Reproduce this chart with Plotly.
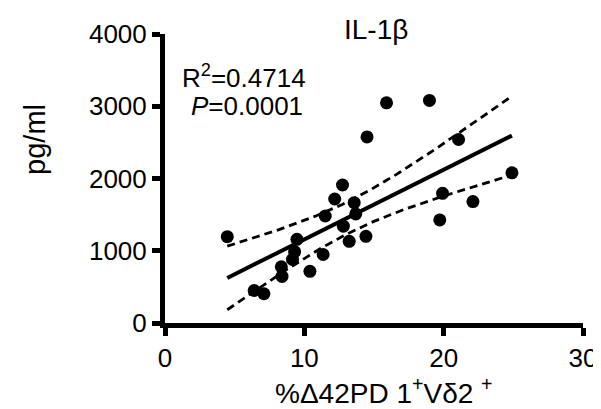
import numpy as np
import plotly.graph_objects as go

# Data
x_pct = [4.47, 6.4, 7.1, 8.4, 8.35, 9.15, 9.3, 9.47, 10.4, 11.35, 11.5, 12.18,
         12.74, 12.8, 13.22, 13.58, 13.69, 14.42, 14.5, 15.9, 18.98, 19.72,
         19.92, 21.07, 22.1, 24.9]
y_pgml = [1195, 450, 405, 645, 778, 880, 987, 1158, 715, 948, 1481, 1716,
          1910, 1340, 1130, 1665, 1510, 1200, 2576, 3047, 3080, 1426,
          1795, 2540, 1680, 2078]

x_ticks = [0, 10, 20, 30]
y_ticks = [0, 1000, 2000, 3000, 4000]
title_text = "IL-1β"
x_title = "%Δ42PD 1<sup>+</sup>Vδ2 <sup>+</sup>"
y_title = "pg/ml"
r2_text = "R<sup>2</sup>=0.4714"
p_text = "<i>P</i>=0.0001"
t_crit = 2.064  # t(0.975, df=24)

xa = np.array(x_pct)
ya = np.array(y_pgml)
n = len(xa)
slope, intercept = np.polyfit(xa, ya, 1)
xs = np.linspace(xa.min(), xa.max(), 100)
yfit = slope * xs + intercept
resid = ya - (slope * xa + intercept)
s = np.sqrt(np.sum(resid ** 2) / (n - 2))
sxx = np.sum((xa - xa.mean()) ** 2)
half = t_crit * s * np.sqrt(1.0 / n + (xs - xa.mean()) ** 2 / sxx)

FONT = "Liberation Sans, Arial, sans-serif"

fig = go.Figure()
fig.add_trace(go.Scatter(x=xs, y=yfit + half, mode="lines",
                         line=dict(color="black", width=2.8, dash="8px,5px"),
                         hoverinfo="skip"))
fig.add_trace(go.Scatter(x=xs, y=yfit - half, mode="lines",
                         line=dict(color="black", width=2.8, dash="8px,5px"),
                         hoverinfo="skip"))
fig.add_trace(go.Scatter(x=xs, y=yfit, mode="lines",
                         line=dict(color="black", width=4)))
fig.add_trace(go.Scatter(x=x_pct, y=y_pgml, mode="markers",
                         marker=dict(color="black", size=13, line=dict(width=0))))

fig.update_layout(
    width=593, height=401,
    margin=dict(l=157, r=18, t=26, b=86, autoexpand=False),
    paper_bgcolor="white", plot_bgcolor="white",
    showlegend=False,
    font=dict(family=FONT, size=26, color="black"),
    xaxis=dict(range=[0, 30], tickvals=x_ticks, showgrid=False, zeroline=False,
               showline=True, linecolor="black", linewidth=5,
               ticks="outside", ticklen=8, tickwidth=5, tickcolor="black",
               tickfont=dict(family=FONT, size=26, color="black")),
    yaxis=dict(range=[0, 4000], tickvals=y_ticks, showgrid=False, zeroline=False,
               showline=True, linecolor="black", linewidth=5,
               ticks="outside", ticklen=8, tickwidth=5, tickcolor="black",
               tickfont=dict(family=FONT, size=26, color="black")),
    annotations=[
        dict(text=title_text, xref="paper", yref="paper", x=0.505, y=1.0,
             xanchor="center", yanchor="bottom", yshift=-13, showarrow=False,
             font=dict(size=28)),
        dict(text=y_title, xref="paper", yref="paper", x=-0.31, y=0.635,
             xanchor="center", yanchor="middle", textangle=-90, showarrow=False,
             font=dict(size=29)),
        dict(text=x_title, xref="paper", yref="paper", x=0.525, y=-0.235,
             xanchor="center", yanchor="middle", showarrow=False,
             font=dict(size=28)),
        dict(text=r2_text, xref="paper", yref="paper", x=0.19, y=0.852,
             xanchor="center", yanchor="middle", showarrow=False,
             font=dict(size=26)),
        dict(text=p_text, xref="paper", yref="paper", x=0.196, y=0.751,
             xanchor="center", yanchor="middle", showarrow=False,
             font=dict(size=26)),
    ],
)

fig.write_html("out.html")
